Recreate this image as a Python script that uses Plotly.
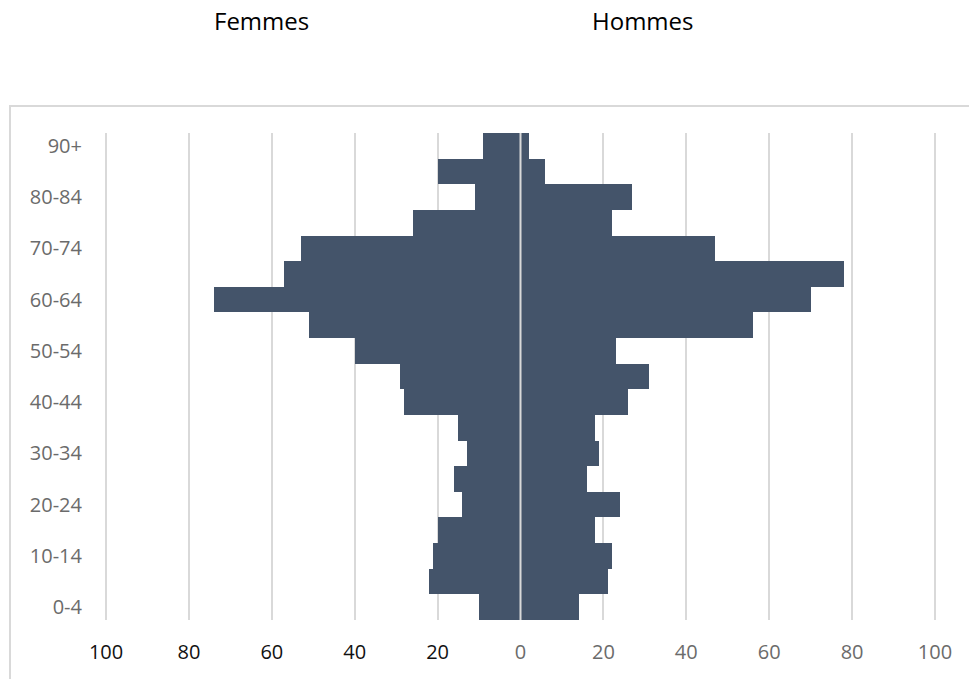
import plotly.graph_objects as go

age_groups = ["0-4", "5-9", "10-14", "15-19", "20-24", "25-29", "30-34", "35-39",
              "40-44", "45-49", "50-54", "55-59", "60-64", "65-69", "70-74",
              "75-79", "80-84", "85-89", "90+"]
femmes = [10, 22, 21, 20, 14, 16, 13, 15, 28, 29, 40, 51, 74, 57, 53, 26, 11, 20, 9]
hommes = [14, 21, 22, 18, 24, 16, 19, 18, 26, 31, 23, 56, 70, 78, 47, 22, 27, 6, 2]
y_tick_labels = ["0-4", "10-14", "20-24", "30-34", "40-44", "50-54", "60-64", "70-74", "80-84", "90+"]
x_tick_values = [-100, -80, -60, -40, -20, 0, 20, 40, 60, 80, 100]

BAR = "#44546A"
GRID = "#D9D9D9"
FONT = "'Open Sans', sans-serif"

W, H = 969, 679
L, R, T, B = 105, 33, 133, 59
PW, PH = W - L - R, H - T - B

fig = go.Figure()
fig.add_trace(go.Bar(
    y=age_groups, x=[-v for v in femmes], orientation="h", name="Femmes",
    marker=dict(color=BAR, line=dict(width=0)), customdata=femmes,
    hovertemplate="%{y}: %{customdata}<extra>Femmes</extra>"))
fig.add_trace(go.Bar(
    y=age_groups, x=hommes, orientation="h", name="Hommes",
    marker=dict(color=BAR, line=dict(width=0)),
    hovertemplate="%{y}: %{x}<extra>Hommes</extra>"))

tick_text = []
for v in x_tick_values:
    if v < 0:
        tick_text.append('<span style="fill:#111111">%d</span>' % abs(v))
    else:
        tick_text.append(str(v))

fig.update_layout(
    width=W, height=H,
    margin=dict(l=L, r=R, t=T, b=B, autoexpand=False),
    paper_bgcolor="white", plot_bgcolor="white",
    barmode="overlay", bargap=0,
    showlegend=False,
    font=dict(family=FONT, size=20, color="#6B6B6B"),
    xaxis=dict(range=[-100.25, 100.25], tickvals=x_tick_values, ticktext=tick_text,
               showgrid=True, gridcolor=GRID, gridwidth=1.5, zeroline=False,
               showline=False, ticks="", ticklabelstandoff=18, automargin=False,
               tickfont=dict(family=FONT, size=20, color="#6B6B6B"),
               fixedrange=True),
    yaxis=dict(type="category", categoryorder="array", categoryarray=age_groups,
               range=[-0.5, 18.5], tickvals=y_tick_labels, automargin=False,
               showgrid=False, zeroline=False, showline=False, ticks="",
               ticklabelstandoff=22,
               tickfont=dict(family=FONT, size=20, color="#6B6B6B")),
    shapes=[
        dict(type="line", xref="x", yref="paper", x0=0, x1=0, y0=0, y1=1,
             line=dict(color=GRID, width=2), layer="above"),
        dict(type="rect", xref="paper", yref="paper",
             x0=(10 - L) / PW, x1=1.2, y0=-0.3, y1=(H - B - 106) / PH,
             line=dict(color=GRID, width=2), fillcolor="rgba(0,0,0,0)", layer="below"),
    ],
    annotations=[
        dict(text="Femmes", xref="paper", yref="paper", x=(261 - L) / PW,
             y=(H - B - 21) / PH, showarrow=False, xanchor="center", yanchor="middle",
             font=dict(family=FONT, size=24, color="#000000")),
        dict(text="Hommes", xref="paper", yref="paper", x=(642 - L) / PW,
             y=(H - B - 21) / PH, showarrow=False, xanchor="center", yanchor="middle",
             font=dict(family=FONT, size=24, color="#000000")),
    ],
)

fig.write_html("out.html", config={"displayModeBar": False},
               post_script="document.body.style.margin='0';")
